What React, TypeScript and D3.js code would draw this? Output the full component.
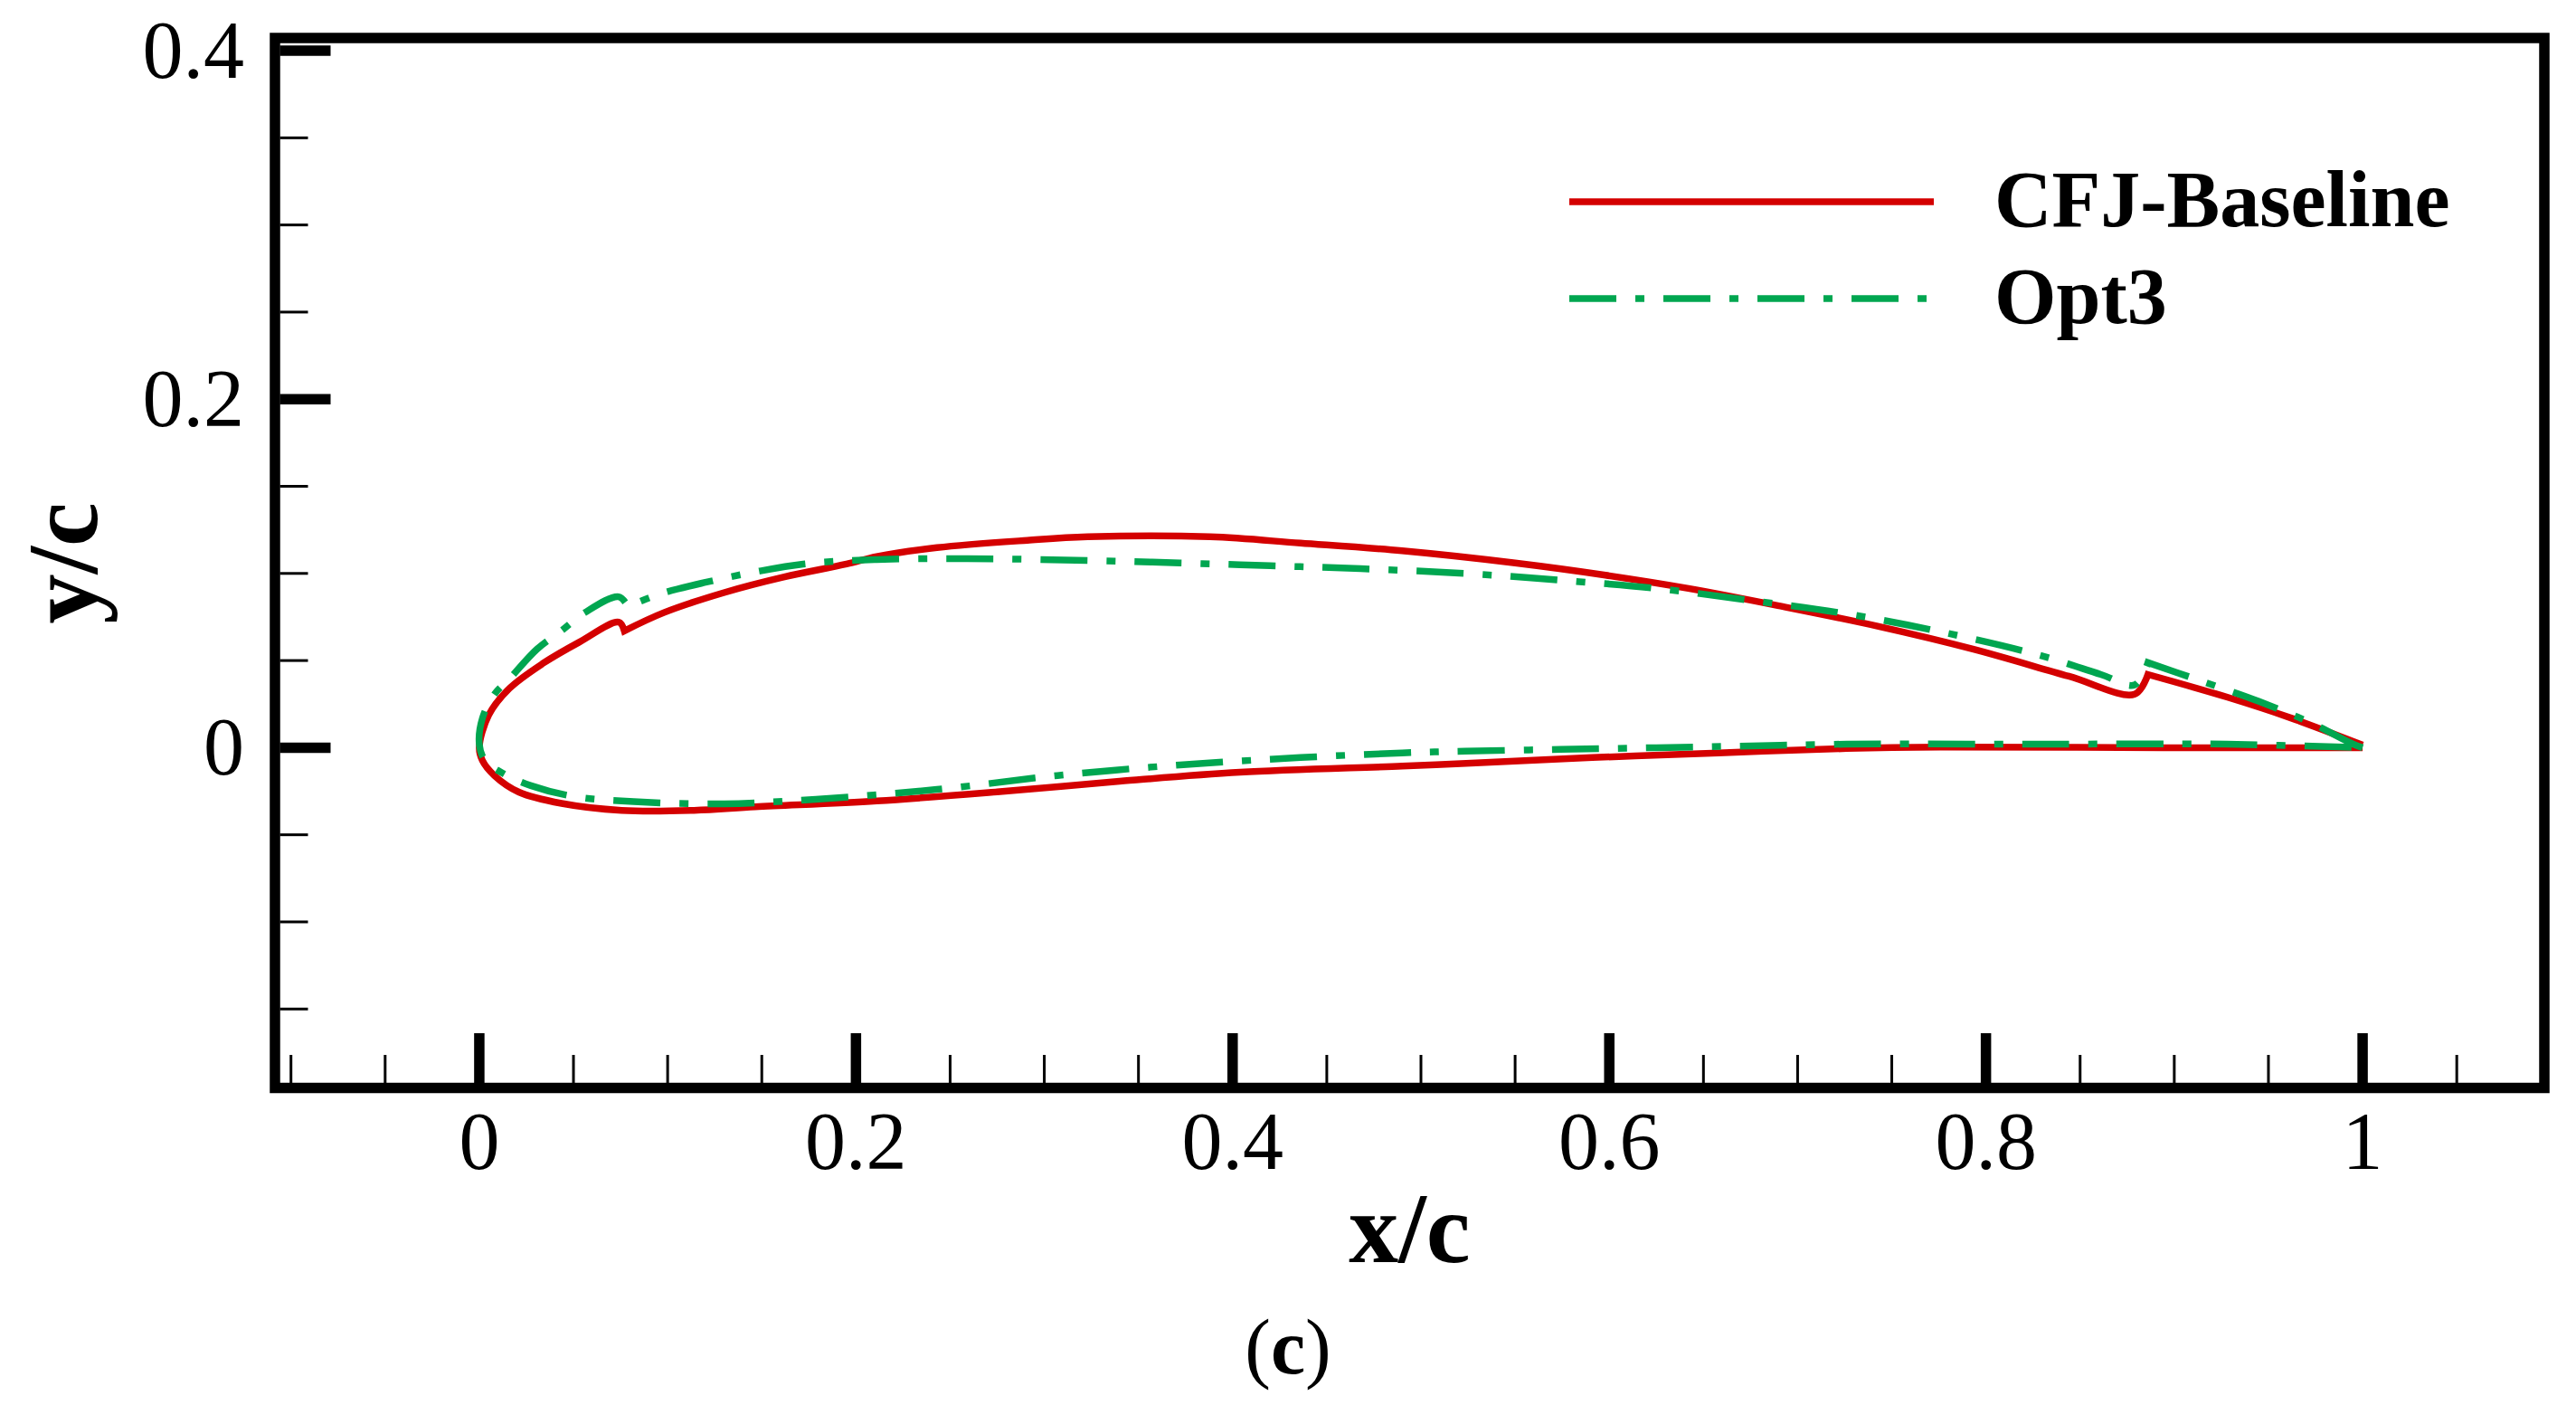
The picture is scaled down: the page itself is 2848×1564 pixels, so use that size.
import React, { useEffect, useRef } from "react";
import * as d3 from "d3";

type Pt = [number, number];

// airfoil contours, x/c and y/c from leading to trailing edge
const baselineUpper: Pt[] = [
  [0, 0], [0.005, 0.0187], [0.016, 0.034], [0.034, 0.0485], [0.053, 0.0605],
  [0.074, 0.072], [0.077, 0.067], [0.098, 0.0775], [0.13, 0.089], [0.162, 0.098],
  [0.195, 0.1054], [0.211, 0.1097], [0.243, 0.1148], [0.291, 0.119], [0.323, 0.121],
  [0.388, 0.121], [0.436, 0.1174], [0.49, 0.113], [0.55, 0.106], [0.598, 0.099],
  [0.642, 0.0914], [0.692, 0.081], [0.743, 0.0696], [0.793, 0.0566], [0.844, 0.041],
  [0.879, 0.0307], [0.886, 0.042], [0.928, 0.029], [0.962, 0.017], [1.0, 0.0015],
];
const baselineLower: Pt[] = [
  [0, 0], [0.0016, -0.0073], [0.008, -0.016], [0.021, -0.0255], [0.0437, -0.032],
  [0.0755, -0.036], [0.114, -0.036], [0.1466, -0.034], [0.211, -0.0306], [0.275, -0.0254],
  [0.34, -0.0193], [0.404, -0.0141], [0.49, -0.0106], [0.524, -0.009], [0.591, -0.0057],
  [0.658, -0.003], [0.726, -0.0005], [0.776, 0.0003], [0.894, 0.0], [1.0, 0.0],
];
const opt3Upper: Pt[] = [
  [0, 0.002], [0.0017, 0.017], [0.008, 0.0306], [0.016, 0.0395], [0.0307, 0.0566],
  [0.0435, 0.067], [0.056, 0.0775], [0.074, 0.0866], [0.079, 0.081], [0.095, 0.0879],
  [0.1206, 0.095], [0.1466, 0.1009], [0.172, 0.1054], [0.211, 0.108], [0.259, 0.1085],
  [0.323, 0.1074], [0.372, 0.106], [0.42, 0.1044], [0.468, 0.1027], [0.5235, 0.1],
  [0.574, 0.0961], [0.625, 0.0914], [0.675, 0.0845], [0.726, 0.0768], [0.776, 0.0665],
  [0.827, 0.0535], [0.861, 0.042], [0.879, 0.036], [0.886, 0.0488], [0.911, 0.0395],
  [0.945, 0.0265], [0.972, 0.0145], [0.995, 0.002], [1.0, 0.0],
];
const opt3Lower: Pt[] = [
  [0, 0.002], [0.003, -0.0073], [0.013, -0.015], [0.0274, -0.0218], [0.05, -0.028],
  [0.082, -0.031], [0.13, -0.0322], [0.1787, -0.0296], [0.243, -0.024], [0.307, -0.016],
  [0.372, -0.0099], [0.436, -0.0057], [0.49, -0.003], [0.5235, -0.002], [0.574, -0.001],
  [0.625, 0.0], [0.675, 0.001], [0.726, 0.002], [0.827, 0.002], [0.928, 0.002], [1.0, 0.0],
];

const seriesNames = ["CFJ-Baseline", "Opt3"];
const seriesColors = ["#d40000", "#00a650"];
const seriesDash = ["none", "52 21 10 21"];

const xMajorTicks = [0, 0.2, 0.4, 0.6, 0.8, 1];
const xTickLabels = ["0", "0.2", "0.4", "0.6", "0.8", "1"];
const yMajorTicks = [0, 0.2, 0.4];
const yTickLabels = ["0", "0.2", "0.4"];

const W = 2848;
const H = 1564;
const serif = "'Liberation Serif', 'Times New Roman', serif";

// split a contour into smooth runs at the sharp injection/suction slot steps
function splitAtSteps(pts: Pt[]): Pt[][] {
  const runs: Pt[][] = [[pts[0]]];
  for (let i = 1; i < pts.length; i++) {
    const [x0, y0] = pts[i - 1];
    const [x1, y1] = pts[i];
    const steep = Math.abs(y1 - y0) > Math.abs(x1 - x0);
    if (steep && Math.min(x0, x1) > 0.05) runs.push([pts[i - 1]]);
    runs[runs.length - 1].push(pts[i]);
  }
  return runs;
}

export default function App() {
  const svgRef = useRef<SVGSVGElement>(null);

  useEffect(() => {
    const svg = d3.select(svgRef.current);
    svg.selectAll("*").remove();

    const frame = { left: 304, right: 2813, top: 42, bottom: 1202.5 };
    const x = d3.scaleLinear().domain([-0.1085, 1.0965]).range([frame.left, frame.right]);
    const y = d3.scaleLinear().domain([-0.1953, 0.4073]).range([frame.bottom, frame.top]);

    const line = d3
      .line<Pt>()
      .x((d) => x(d[0]))
      .y((d) => y(d[1]))
      .curve(d3.curveCatmullRom.alpha(0.5));

    const contours: Pt[][] = [
      [...baselineUpper].reverse().concat(baselineLower.slice(1)),
      [...opt3Upper].reverse().concat(opt3Lower.slice(1)),
    ];

    const plot = svg.append("g");
    contours.forEach((pts, i) => {
      const d = splitAtSteps(pts)
        .map((run, k) => {
          const s = line(run) || "";
          return k === 0 ? s : "L" + s.slice(1);
        })
        .join("");
      plot
        .append("path")
        .attr("d", d)
        .attr("fill", "none")
        .attr("stroke", seriesColors[i])
        .attr("stroke-width", 7.5)
        .attr("stroke-dasharray", seriesDash[i])
        .attr("stroke-linejoin", "miter");
    });

    // minor ticks
    const isMajor = (v: number, majors: number[]) =>
      majors.some((m) => Math.abs(m - v) < 1e-6);
    const xMinor = d3.range(-0.1, 1.06, 0.05).filter((v) => !isMajor(v, xMajorTicks));
    const yMinor = d3.range(-0.15, 0.36, 0.05).filter((v) => !isMajor(v, yMajorTicks));
    const inner = 5.5;

    const axes = svg.append("g").attr("stroke", "#000");
    axes
      .selectAll(".xminor")
      .data(xMinor)
      .enter()
      .append("line")
      .attr("x1", (d) => x(d))
      .attr("x2", (d) => x(d))
      .attr("y1", frame.bottom - inner)
      .attr("y2", frame.bottom - inner - 31)
      .attr("stroke-width", 3);
    axes
      .selectAll(".yminor")
      .data(yMinor)
      .enter()
      .append("line")
      .attr("y1", (d) => y(d))
      .attr("y2", (d) => y(d))
      .attr("x1", frame.left + inner)
      .attr("x2", frame.left + inner + 31)
      .attr("stroke-width", 3);
    axes
      .selectAll(".xmajor")
      .data(xMajorTicks)
      .enter()
      .append("line")
      .attr("x1", (d) => x(d))
      .attr("x2", (d) => x(d))
      .attr("y1", frame.bottom - inner)
      .attr("y2", frame.bottom - inner - 55)
      .attr("stroke-width", 11.5);
    axes
      .selectAll(".ymajor")
      .data(yMajorTicks)
      .enter()
      .append("line")
      .attr("y1", (d) => y(d))
      .attr("y2", (d) => y(d))
      .attr("x1", frame.left + inner)
      .attr("x2", frame.left + inner + 56)
      .attr("stroke-width", 11.5);

    axes
      .append("rect")
      .attr("x", frame.left)
      .attr("y", frame.top)
      .attr("width", frame.right - frame.left)
      .attr("height", frame.bottom - frame.top)
      .attr("fill", "none")
      .attr("stroke-width", 11.5);

    const labels = svg.append("g").attr("font-family", serif).attr("fill", "#000");
    labels
      .selectAll(".xlab")
      .data(xMajorTicks)
      .enter()
      .append("text")
      .attr("x", (d) => x(d))
      .attr("y", 1292)
      .attr("text-anchor", "middle")
      .attr("font-size", 90)
      .text((_, i) => xTickLabels[i]);
    labels
      .selectAll(".ylab")
      .data(yMajorTicks)
      .enter()
      .append("text")
      .attr("x", 270)
      .attr("y", (d) => y(d) + 30)
      .attr("text-anchor", "end")
      .attr("font-size", 90)
      .text((_, i) => yTickLabels[i]);

    labels
      .append("text")
      .attr("x", (frame.left + frame.right) / 2)
      .attr("y", 1395)
      .attr("text-anchor", "middle")
      .attr("font-size", 110)
      .attr("font-weight", "bold")
      .text("x/c");
    labels
      .append("text")
      .attr("transform", `translate(107, ${(frame.top + frame.bottom) / 2}) rotate(-90)`)
      .attr("text-anchor", "middle")
      .attr("font-size", 110)
      .attr("font-weight", "bold")
      .text("y/c");

    const caption = labels
      .append("text")
      .attr("x", W / 2)
      .attr("y", 1518)
      .attr("text-anchor", "middle")
      .attr("font-size", 86);
    caption.append("tspan").text("(");
    caption.append("tspan").attr("font-weight", "bold").text("c");
    caption.append("tspan").text(")");

    // legend
    const legend = svg.append("g");
    seriesNames.forEach((name, i) => {
      const ly = 223 + i * 107;
      legend
        .append("line")
        .attr("x1", 1735)
        .attr("x2", 2138)
        .attr("y1", ly)
        .attr("y2", ly)
        .attr("stroke", seriesColors[i])
        .attr("stroke-width", 7.5)
        .attr("stroke-dasharray", seriesDash[i]);
      legend
        .append("text")
        .attr("x", 2205)
        .attr("y", ly + 27)
        .attr("font-family", serif)
        .attr("font-size", 88)
        .attr("font-weight", "bold")
        .text(name);
    });
  }, []);

  return (
    <svg
      ref={svgRef}
      width={W}
      height={H}
      style={{ position: "absolute", left: 0, top: 0, background: "#fff" }}
    />
  );
}
